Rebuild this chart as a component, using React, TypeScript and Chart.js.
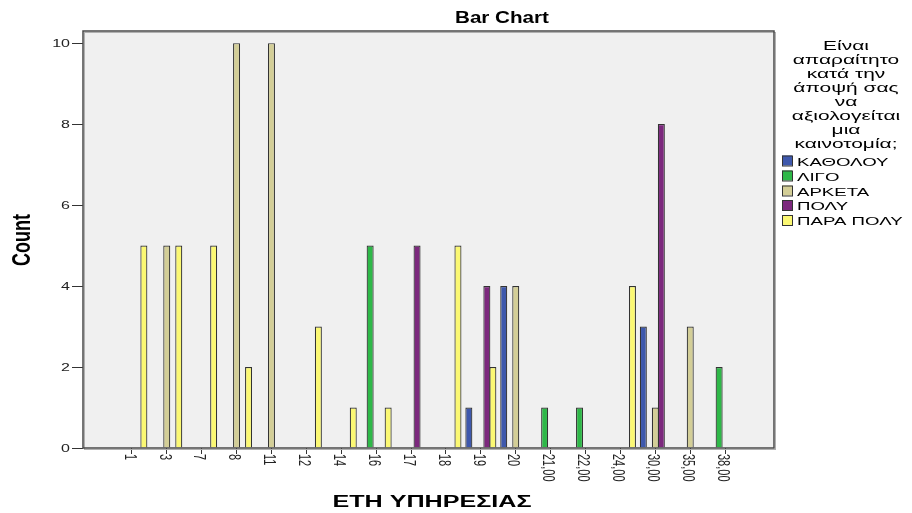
import React, { useEffect, useRef } from "react";
import { Chart, registerables } from "chart.js";

Chart.register(...registerables);

// ---- data ----
const categories = ["1", "3", "7", "8", "11", "12", "14", "16", "17", "18", "19", "20", "21,00", "22,00", "24,00", "30,00", "35,00", "38,00"];
const seriesNames = ["ΚΑΘΟΛΟΥ", "ΛΙΓΟ", "ΑΡΚΕΤΑ", "ΠΟΛΥ", "ΠΑΡΑ ΠΟΛΥ"];
const seriesColors = ["#3e58ac", "#2eb848", "#d3ce97", "#7c287d", "#fbf873"];
const katholou = [null, null, null, null, null, null, null, null, null, null, 1, 4, null, null, null, 3, null, null];
const ligo = [null, null, null, null, null, null, null, 5, null, null, null, null, 1, 1, null, null, null, 2];
const arketa = [null, 5, null, 10, 10, null, null, null, null, null, null, 4, null, null, null, 1, 3, null];
const poly = [null, null, null, null, null, null, null, null, 5, null, 4, null, null, null, null, 8, null, null];
const paraPoly = [5, 5, 5, 2, null, 3, 1, 1, null, 5, 2, null, null, null, 4, null, null, null];
const seriesValues = [katholou, ligo, arketa, poly, paraPoly];
const yTickValues = [0, 2, 4, 6, 8, 10];
const chartTitle = "Bar Chart";
const xTitle = "ΕΤΗ ΥΠΗΡΕΣΙΑΣ";
const yTitle = "Count";
const legendTitleLines = ["Είναι", "απαραίτητο", "κατά την", "άποψή σας", "να", "αξιολογείται", "μια", "καινοτομία;"];

const FONT = '"Liberation Sans", Arial, sans-serif';

function sText(
  ctx: CanvasRenderingContext2D,
  text: string,
  x: number,
  y: number,
  o: { font: string; sx: number; align: CanvasTextAlign; baseline?: CanvasTextBaseline; rot?: number; ox?: number; oy?: number; color?: string }
) {
  ctx.save();
  ctx.translate(x, y);
  ctx.scale(o.sx, 1);
  if (o.rot) ctx.rotate(o.rot);
  ctx.font = o.font;
  ctx.textAlign = o.align;
  ctx.textBaseline = o.baseline || "alphabetic";
  ctx.fillStyle = o.color || "#000";
  ctx.fillText(text, o.ox || 0, o.oy || 0);
  ctx.restore();
}

const backgroundPlugin = {
  id: "spssBackground",
  beforeDraw(chart: any) {
    const { ctx, chartArea: a } = chart;
    ctx.save();
    ctx.fillStyle = "#ffffff";
    ctx.fillRect(0, 0, chart.width, chart.height);
    ctx.fillStyle = "#f0f0f0";
    ctx.fillRect(a.left, a.top, a.right - a.left, a.bottom - a.top);
    ctx.restore();
  },
};

const overlayPlugin = {
  id: "spssOverlay",
  afterDraw(chart: any) {
    const { ctx, chartArea: a } = chart;
    const xs = chart.scales.x;
    const ys = chart.scales.y;
    ctx.save();
    // frame with soft shadow
    ctx.strokeStyle = "#b0b0b0";
    ctx.lineWidth = 1;
    ctx.strokeRect(a.left + 1.5, a.top + 1.5, a.right - a.left, a.bottom - a.top);
    ctx.strokeStyle = "#4a4a4a";
    ctx.lineWidth = 1.5;
    ctx.strokeRect(a.left, a.top, a.right - a.left, a.bottom - a.top);
    ctx.restore();

    // y tick labels
    yTickValues.forEach((v) => {
      const y = ys.getPixelForValue(v);
      sText(ctx, String(v), 70, y + 3.6, { font: `10px ${FONT}`, sx: 1.6, align: "right", color: "#222" });
    });

    // x tick labels (rotated clockwise)
    categories.forEach((c, i) => {
      const x = xs.getPixelForValue(i);
      sText(ctx, c, x, 454, { font: `11px ${FONT}`, sx: 1.45, align: "left", rot: Math.PI / 2, ox: 0, oy: 5, color: "#222" });
    });

    // titles
    sText(ctx, chartTitle, 455, 23, { font: `bold 16.5px ${FONT}`, sx: 1.25, align: "left" });
    sText(ctx, xTitle, 432, 506.5, { font: `bold 16px ${FONT}`, sx: 1.57, align: "center" });
    sText(ctx, yTitle, 23, 240, { font: `bold 18px ${FONT}`, sx: 1.45, align: "center", baseline: "middle", rot: -Math.PI / 2 });

    // legend
    legendTitleLines.forEach((line, i) => {
      sText(ctx, line, 846, 50 + 14 * i, { font: `13.5px ${FONT}`, sx: 1.55, align: "center" });
    });
    const itemBase = [165.5, 180.5, 195.5, 210, 225];
    seriesNames.forEach((name, i) => {
      const b = itemBase[i];
      ctx.save();
      ctx.fillStyle = seriesColors[i];
      ctx.fillRect(782, b - 10, 10, 10);
      ctx.strokeStyle = "#333";
      ctx.lineWidth = 1;
      ctx.strokeRect(782.5, b - 9.5, 10, 10);
      ctx.restore();
      sText(ctx, name, 797, b, { font: `11.5px ${FONT}`, sx: 1.62, align: "left" });
    });
  },
};

export default function App() {
  const ref = useRef<HTMLCanvasElement | null>(null);

  useEffect(() => {
    if (!ref.current) return;
    const datasets = seriesNames.map((name, s) => ({
      label: name,
      data: seriesValues[s].map((v, i) => ({ x: i, y: v })),
      backgroundColor: seriesColors[s],
      borderColor: "#333333",
      borderWidth: 1.2,
      categoryPercentage: 0.86,
      barPercentage: 1.17,
    }));
    const chart = new Chart(ref.current, {
      type: "bar",
      data: { datasets } as any,
      plugins: [backgroundPlugin, overlayPlugin],
      options: {
        animation: false,
        responsive: false,
        devicePixelRatio: 1,
        layout: { padding: { left: 0, top: 31, right: 138, bottom: 0 } },
        plugins: {
          legend: { display: false },
          title: { display: false },
          tooltip: { enabled: false },
        },
        scales: {
          x: {
            type: "linear",
            min: -1.4,
            max: categories.length - 1 + 1.4,
            offset: false,
            afterBuildTicks: (scale: any) => {
              scale.ticks = categories.map((_, i) => ({ value: i }));
            },
            afterFit: (scale: any) => {
              scale.height = 65;
            },
            ticks: { display: false },
            grid: { display: true, offset: false, drawOnChartArea: false, drawTicks: true, tickLength: 6, color: "#333", lineWidth: 1 },
            border: { display: false },
          },
          y: {
            type: "linear",
            min: 0,
            max: 10.3,
            ticks: { display: false, stepSize: 2, includeBounds: false },
            afterFit: (scale: any) => {
              scale.width = 83;
            },
            grid: { display: true, offset: false, drawOnChartArea: false, drawTicks: true, tickLength: 11, color: "#333", lineWidth: 1 },
            border: { display: false },
          },
        },
      } as any,
    });
    return () => chart.destroy();
  }, []);

  return (
    <div style={{ position: "fixed", left: 0, top: 0, width: 912, height: 513, background: "#fff" }}>
      <canvas ref={ref} width={912} height={513} style={{ display: "block", width: 912, height: 513 }} />
    </div>
  );
}
